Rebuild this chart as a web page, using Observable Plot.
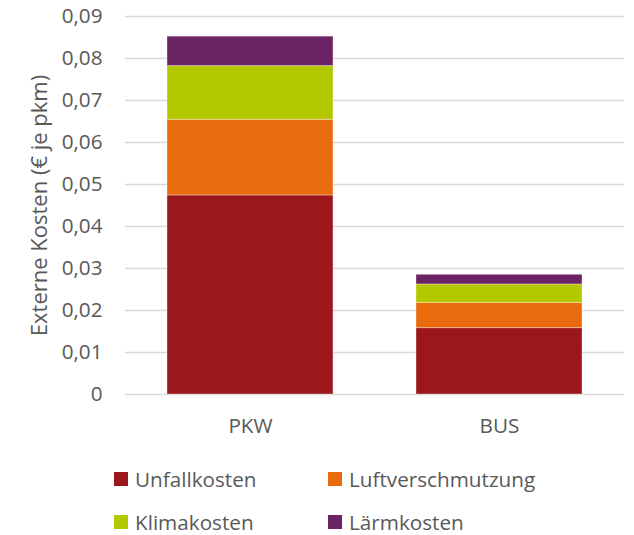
<!DOCTYPE html>
<html>
<head>
<meta charset="utf-8">
<script src="https://cdn.jsdelivr.net/npm/d3@7"></script>
<script src="https://cdn.jsdelivr.net/npm/@observablehq/plot@0.6"></script>
<style>
  html, body { margin: 0; padding: 0; background: #fff; }
  #wrap { position: relative; width: 634px; height: 535px; font-family: "Open Sans", sans-serif; color: #595959; }
  .legend { position: absolute; left: 0; top: 0; width: 634px; }
  .item { position: absolute; display: flex; align-items: center; font-size: 20.7px; line-height: 22px; white-space: nowrap; }
  .sw { width: 14px; height: 14px; margin-right: 7px; flex: none; }
</style>
</head>
<body>
<div id="wrap"></div>
<script>
const categories = ["PKW", "BUS"];
const series = ["Unfallkosten", "Luftverschmutzung", "Klimakosten", "Lärmkosten"];
const unfallkosten = [0.0474, 0.0158];
const luftverschmutzung = [0.018, 0.006];
const klimakosten = [0.0128, 0.0044];
const laermkosten = [0.007, 0.0023];
const yTicks = [0, 0.01, 0.02, 0.03, 0.04, 0.05, 0.06, 0.07, 0.08, 0.09];
const colors = ["#9B171C", "#EA6A0E", "#B4C800", "#6D2464"];

const valuesBySeries = [unfallkosten, luftverschmutzung, klimakosten, laermkosten];
const data = [];
categories.forEach((c, i) => {
  series.forEach((s, j) => data.push({cat: c, series: s, value: valuesBySeries[j][i]}));
});

const fmt = v => v === 0 ? "0" : v.toFixed(2).replace(".", ",");

const chart = Plot.plot({
  width: 634,
  height: 450,
  marginTop: 16,
  marginBottom: 56,
  marginLeft: 125,
  marginRight: 10,
  style: {fontFamily: "Open Sans, sans-serif", fontSize: "20.7px", color: "#595959", background: "transparent"},
  x: {domain: categories, paddingInner: 1/3, paddingOuter: 1/6, label: null},
  y: {domain: [0, 0.09], label: null},
  color: {domain: series, range: colors},
  marks: [
    Plot.ruleY(yTicks, {stroke: "#D9D9D9", strokeWidth: 1.5}),
    Plot.barY(data, Plot.stackY({x: "cat", y: "value", fill: "series", stroke: "#ffffff", strokeOpacity: 0.35, strokeWidth: 1, inset: 0})),
    Plot.axisY(yTicks, {tickSize: 0, tickPadding: 23, tickFormat: fmt, label: "Externe Kosten (€ je pkm)", labelArrow: "none", labelAnchor: "center", labelOffset: 94}),
    Plot.axisX({tickSize: 0, tickPadding: 24, label: null})
  ]
});

d3.select(chart).selectAll('[aria-label="y-axis label"] text').style("font-size", "22px");

const wrap = document.getElementById("wrap");
wrap.appendChild(chart);

const legend = document.createElement("div");
legend.className = "legend";
const pos = [[114, 479], [328, 479], [114, 522], [328, 522]];
series.forEach((s, i) => {
  const it = document.createElement("div");
  it.className = "item";
  it.style.left = pos[i][0] + "px";
  it.style.top = (pos[i][1] - 11) + "px";
  it.style.height = "22px";
  const sw = document.createElement("span");
  sw.className = "sw";
  sw.style.background = colors[i];
  const t = document.createElement("span");
  t.textContent = s;
  it.appendChild(sw);
  it.appendChild(t);
  legend.appendChild(it);
});
wrap.appendChild(legend);
</script>
</body>
</html>
